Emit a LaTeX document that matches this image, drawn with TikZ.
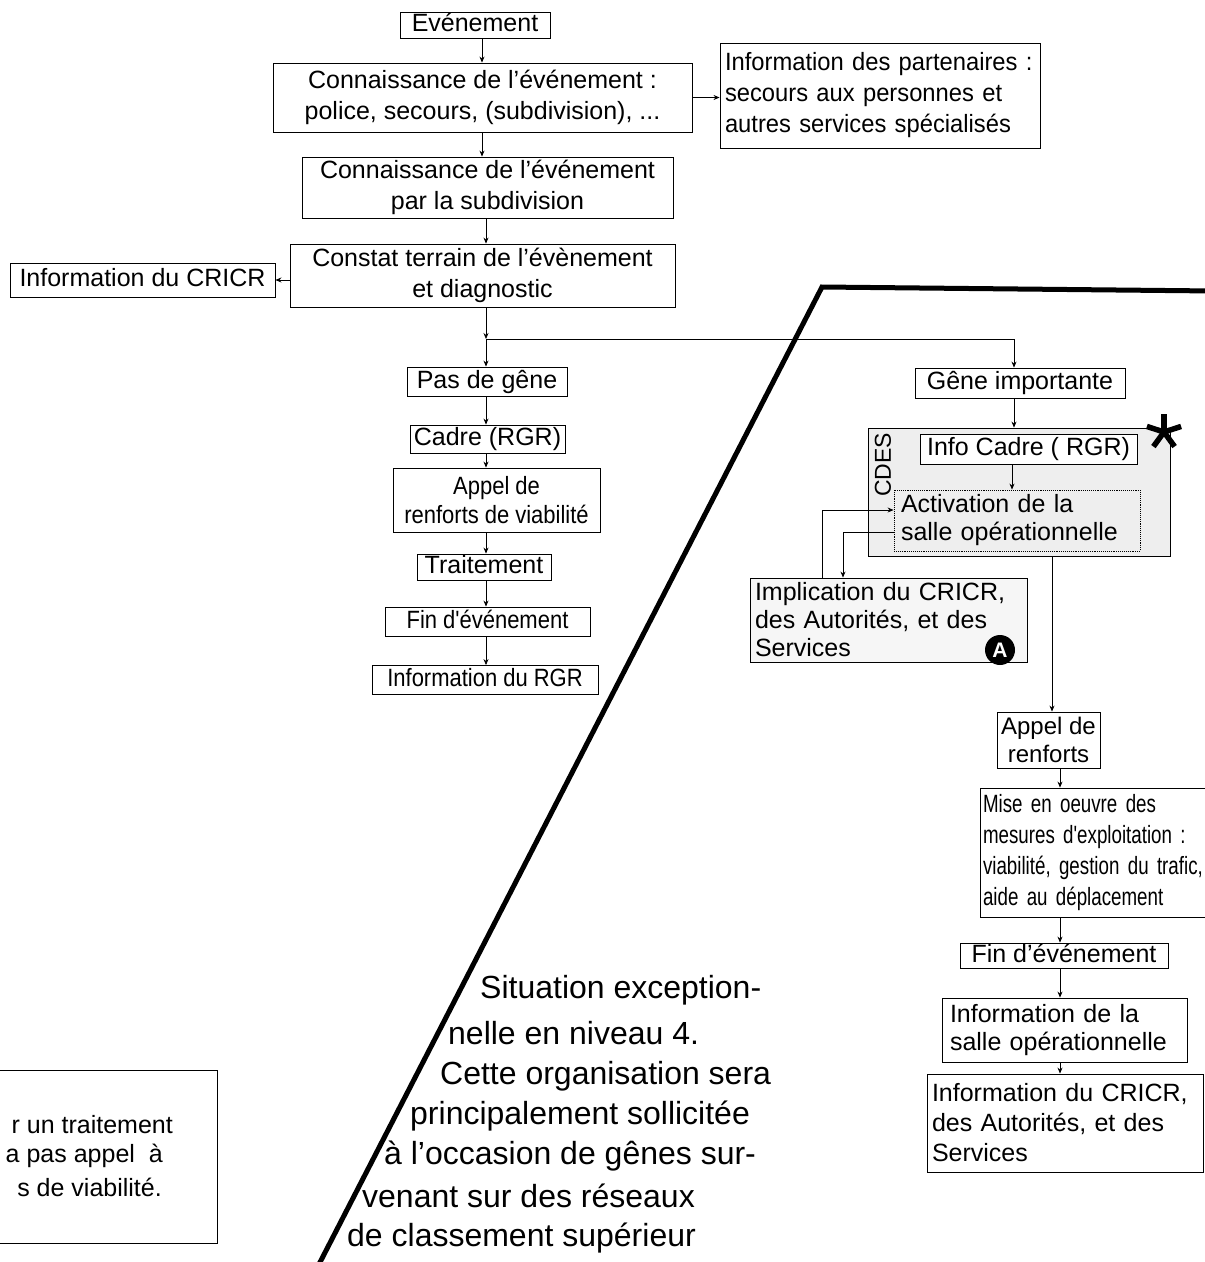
\documentclass[tikz,border=0pt]{standalone}
\usepackage{fontspec}
\setmainfont{Liberation Sans}
\newfontfamily\narrowA{Liberation Sans}[FakeStretch=0.88]
\newfontfamily\narrowB{Liberation Sans}[FakeStretch=0.75]
\newfontfamily\narrowC{Liberation Sans}[FakeStretch=0.95]
\usetikzlibrary{arrows.meta,calc}

% condensed faces with matching word spaces
\newcommand\fontA{\narrowA\fontsize{25}{29}\selectfont\spaceskip 6pt\relax}
\newcommand\fontB{\narrowB\fontsize{25}{31}\selectfont\spaceskip 5pt\relax}
\newcommand\fontC{\narrowC\fontsize{25}{31}\selectfont\spaceskip 6.5pt\relax}

\tikzset{
  box/.style={draw, line width=0.9pt, inner sep=0pt, align=center,
    font=\fontsize{25}{31}\selectfont},
  one/.style={text height=18pt, text depth=5pt},
  lbox/.style={box, align=left},
  arr/.style={-{Stealth[length=6pt,width=5pt]}, line width=0.7pt},
  heavy/.style={line width=5pt, line join=miter},
  bigtext/.style={anchor=west, inner sep=0pt, font=\fontsize{32}{32}\selectfont},
  notetext/.style={anchor=east, inner sep=0pt, font=\fontsize{25}{25}\selectfont},
}

\begin{document}
\begin{tikzpicture}[x=1pt, y=-1pt]
\useasboundingbox (0,0) rectangle (1205,1262);
\fill[white] (0,0) rectangle (1205,1262);
\clip (0,0) rectangle (1205,1262);

% ---- main chain -------------------------------------------------
\node[box, one, minimum width=150pt, minimum height=26pt] (ev) at (475,25) {Evénement};
\node[box, minimum width=419pt, minimum height=69pt] (conn1) at (482.5,97.5)
  {Connaissance de l'événement :\\police, secours, (subdivision), ...};
\node[lbox, minimum height=105pt, text width=310pt, inner xsep=5pt, font=\fontC]
  (part) at (880,95.5)
  {Information des partenaires :\\secours aux personnes et\\autres services spécialisés};
\node[box, minimum width=371pt, minimum height=61pt] (conn2) at (487.5,187.5)
  {Connaissance de l'événement\\par la subdivision};
\node[box, minimum width=385pt, minimum height=63pt] (constat) at (482.5,275.5)
  {Constat terrain de l'évènement\\et diagnostic};
\node[box, one, minimum width=265pt, minimum height=34pt] (cricr) at (142.5,280)
  {Information du CRICR};

% ---- left branch: no disruption ---------------------------------
\node[box, one, minimum width=160pt, minimum height=29pt] (pasgene) at (487,381.5) {Pas de gêne};
\node[box, one, minimum width=155pt, minimum height=28pt] (cadre) at (487.5,439) {Cadre (RGR)};
\node[box, minimum width=207pt, minimum height=64pt, font=\fontA] (appel1) at (496.5,500)
  {Appel de\\renforts de viabilité};
\node[box, one, minimum width=134pt, minimum height=26pt] (traitement) at (484,567) {Traitement};
\node[box, one, minimum width=205pt, minimum height=29pt, font=\fontA] (fin1) at (487.5,621.5)
  {Fin d'événement};
\node[box, one, minimum width=226pt, minimum height=29pt, font=\fontA] (inforgr) at (485,680)
  {Information du RGR};

% ---- right branch: major disruption -----------------------------
\node[box, one, minimum width=210pt, minimum height=30pt] (gene) at (1020,383) {Gêne importante};
\node[draw, line width=0.9pt, fill=gray!13, minimum width=302pt, minimum height=128pt,
  inner sep=0pt] (cdes) at (1019,492) {};
\node[rotate=90, inner sep=0pt, font=\fontsize{23}{23}\selectfont] (cdeslabel) at (883,465) {CDES};
\node[box, one, fill=white, minimum width=217pt, minimum height=30pt] (infocadre) at (1028.5,449)
  {Info Cadre ( RGR)};
\node[lbox, densely dotted, minimum height=61pt, text width=232pt, inner xsep=7pt,
  font=\fontsize{25}{28}\selectfont] (activation) at (1017,520.5)
  {Activation de la\\salle opérationnelle};
\node[lbox, fill=gray!7, minimum height=84pt, text width=267pt, inner xsep=5pt,
  font=\fontsize{25}{28}\selectfont] (implication) at (888.5,620)
  {Implication du CRICR,\\des Autorités, et des\\Services};
\node[circle, fill=black, minimum size=30pt, inner sep=0pt, text=white,
  font=\bfseries\fontsize{21}{21}\selectfont] (markA) at (1000,650) {A};

\node[box, minimum width=103pt, minimum height=56pt,
  font=\fontsize{24}{28}\selectfont] (appel2) at (1048.5,740) {Appel de\\renforts};
\node[lbox, minimum height=129pt, text width=250pt, inner xsep=3pt, font=\fontB]
  (mise) at (1108,852.5)
  {Mise en oeuvre des\\mesures d'exploitation :\\viabilité, gestion du trafic,\\aide au déplacement};
\node[box, one, minimum width=208pt, minimum height=25pt] (fin2) at (1064,955.5) {Fin d'événement};
\node[lbox, minimum height=64pt, text width=229pt, inner xsep=8pt,
  font=\fontsize{25}{28}\selectfont] (infosalle) at (1064.5,1030)
  {Information de la\\salle opérationnelle};
\node[lbox, minimum height=98pt, text width=266pt, inner xsep=5pt,
  font=\fontsize{25}{30}\selectfont] (infocricr) at (1065,1123)
  {Information du CRICR,\\des Autorités, et des\\Services};

% asterisk marking the operations room
\coordinate (star) at (1164,432);
\foreach \a in {-90,-18,-162,-234,-306}
  \draw[line width=5.5pt] (star) -- ++(\a:18);

% ---- connectors ---------------------------------------------------
\coordinate (cA) at (482,0);
\coordinate (cB) at (486,0);
\coordinate (cG) at (1014,0);
\coordinate (cI) at (1012,0);
\coordinate (cR) at (1052,0);
\coordinate (cS) at (1060,0);
\coordinate (split) at (486,339);
\coordinate (iu) at (822,510);
\coordinate (il) at (843,532);

\draw[arr] (ev.south -| cA) -- (conn1.north -| cA);
\draw[arr] (conn1.south -| cA) -- (conn2.north -| cA);
\draw[arr] (conn1.east) -- (conn1.east -| part.west);
\draw[arr] (conn2.south -| cB) -- (constat.north -| cB);
\draw[arr] (constat.west |- cricr.east) -- (cricr.east);
\draw[arr] (constat.south -| cB) -- (split);
\draw[arr] (split) -- (pasgene.north -| cB);
\draw[arr] (split) -| (gene.north -| cG);
\draw[arr] (pasgene.south -| cB) -- (cadre.north -| cB);
\draw[arr] (cadre.south -| cB) -- (appel1.north -| cB);
\draw[arr] (appel1.south -| cB) -- (traitement.north -| cB);
\draw[arr] (traitement.south -| cB) -- (fin1.north -| cB);
\draw[arr] (fin1.south -| cB) -- (inforgr.north -| cB);

\draw[arr] (gene.south -| cG) -- (cdes.north -| cG);
\draw[arr] (infocadre.south -| cI) -- (activation.north -| cI);
\draw[arr] (implication.north -| iu) -- (iu) -- (activation.west |- iu);
\draw[arr] (activation.west |- il) -- (il) -- (implication.north -| il);
\draw[arr] (cdes.south -| cR) -- (appel2.north -| cR);
\draw[arr] (appel2.south -| cS) -- (mise.north -| cS);
\draw[arr] (mise.south -| cS) -- (fin2.north -| cS);
\draw[arr] (fin2.south -| cS) -- (infosalle.north -| cS);
\draw[arr] (infosalle.south -| cS) -- (infocricr.north -| cS);

% ---- boundary of the exceptional situation ------------------------
\coordinate (bLow) at (315,1272);
\coordinate (bCorner) at (822,287);
\coordinate (bRight) at (1215,291);
\draw[heavy] (bLow) -- (bCorner) -- (bRight);

\node[bigtext] (s1) at (480,990) {Situation exception-};
\node[bigtext] (s2) at (448,1033) {nelle en niveau 4.};
\node[bigtext] (s3) at (440,1076) {Cette organisation sera};
\node[bigtext] (s4) at (410,1116) {principalement sollicitée};
\node[bigtext] (s5) at (384,1156) {à l'occasion de gênes sur-};
\node[bigtext] (s6) at (362,1196) {venant sur des réseaux};
\node[bigtext] (s7) at (347,1238) {de classement supérieur};

% ---- note box at the lower left ------------------------------------
\node[draw, line width=0.7pt, minimum width=277pt, minimum height=173pt, inner sep=0pt]
  (note) at (78.5,1156.5) {};
\node[notetext] (n1) at (173,1125) {r un traitement};
\node[notetext] (n2) at (163,1156) {a pas appel\ \ à};
\node[notetext] (n3) at (162,1187) {s de viabilité.};
\end{tikzpicture}
\end{document}
